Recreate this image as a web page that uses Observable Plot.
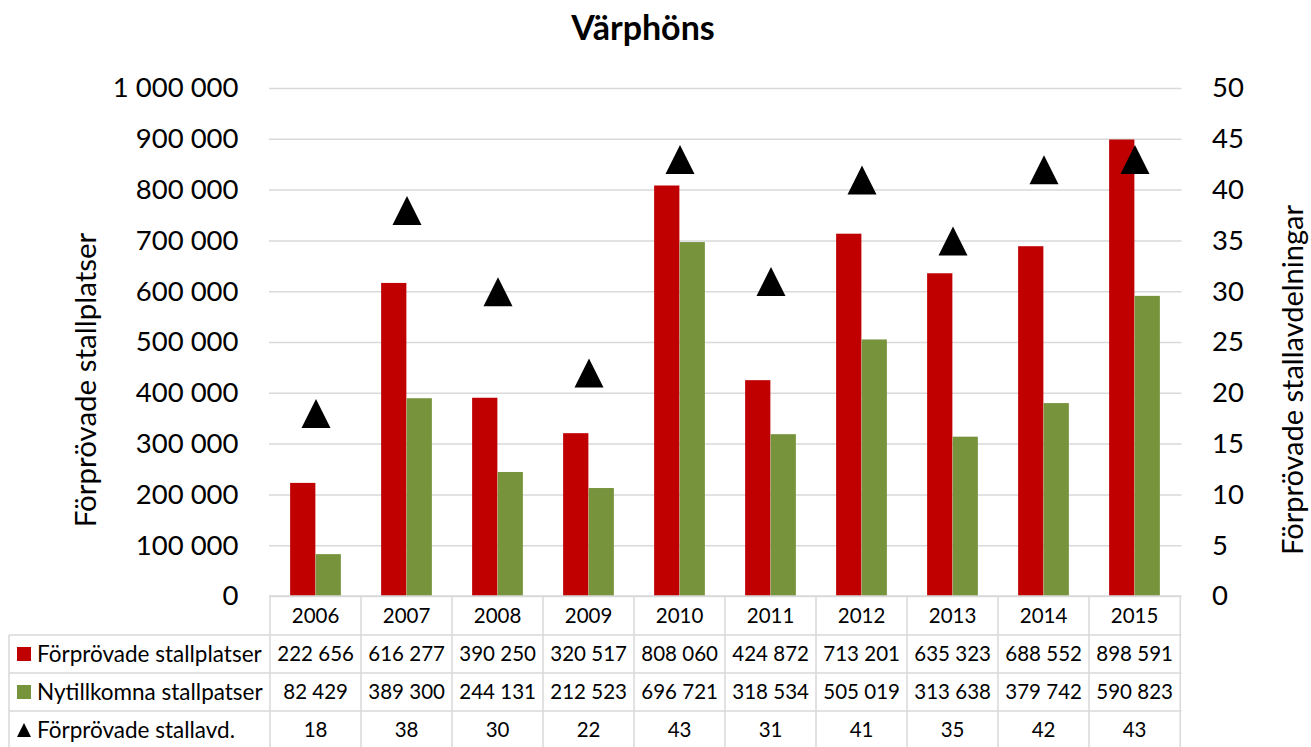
<!DOCTYPE html>
<html><head><meta charset="utf-8">
<script src="https://cdn.jsdelivr.net/npm/d3@7"></script>
<script src="https://cdn.jsdelivr.net/npm/@observablehq/plot@0.6"></script>
<style>body{margin:0;background:#fff} svg{font-family:Lato,sans-serif}</style>
</head><body><div id="chart"></div><script>
const title = "Värphöns";
const years = ["2006","2007","2008","2009","2010","2011","2012","2013","2014","2015"];
const stallplatser = [222656, 616277, 390250, 320517, 808060, 424872, 713201, 635323, 688552, 898591];
const nytillkomna = [82429, 389300, 244131, 212523, 696721, 318534, 505019, 313638, 379742, 590823];
const stallavd = [18, 38, 30, 22, 43, 31, 41, 35, 42, 43];
const seriesNames = ["Förprövade stallplatser", "Nytillkomna stallpatser", "Förprövade stallavd."];
const leftTitle = "Förprövade stallplatser";
const rightTitle = "Förprövade stallavdelningar";
const leftTicks = d3.range(0, 1000001, 100000);
const rightTicks = d3.range(0, 51, 5);
const colors = ["#C00000", "#77933C", "#000000"];

const rightMax = 50, leftMax = 1000000;
const yFactor = leftMax / rightMax;
const fmt = d => d3.format(",")(d).replace(/,/g, " ");

const W = 1311, H = 747;
const mL = 269, mR = 129.5, mT = 88, mB = 151;
const bw = (W - mL - mR) / years.length;
const barW = 25.5;
const inset = (bw - barW) / 2;
const gridColor = "#D9D9D9";

const data = years.map((year, i) => ({year, platser: stallplatser[i], nya: nytillkomna[i], avd: stallavd[i]}));

const tri = {draw(ctx, size) {
  const r = Math.sqrt(size / Math.PI);
  ctx.moveTo(0, -r); ctx.lineTo(r, r); ctx.lineTo(-r, r); ctx.closePath();
}};

function decorations(index, scales, values, dims) {
  const x = scales.x;
  const g = d3.create("svg:g").attr("font-family", "Lato, sans-serif").attr("fill", "#000").attr("text-anchor", "start");
  const top = dims.height - dims.marginBottom;
  const right = dims.width - dims.marginRight;
  const left = dims.marginLeft;
  const rowY = [top, top + 39, top + 77, top + 115, top + 153];
  const tableLeft = 9;
  const lines = g.append("g").attr("stroke", gridColor).attr("stroke-width", 1.5);
  lines.append("line").attr("x1", left).attr("x2", right).attr("y1", rowY[0]).attr("y2", rowY[0]);
  for (let r = 1; r < rowY.length; r++)
    lines.append("line").attr("x1", tableLeft).attr("x2", right).attr("y1", rowY[r]).attr("y2", rowY[r]);
  const bounds = years.map(y => x(y)).concat([x(years[years.length - 1]) + bw]);
  bounds.forEach(b => lines.append("line").attr("x1", b).attr("x2", b).attr("y1", rowY[0]).attr("y2", rowY[4]));
  lines.append("line").attr("x1", tableLeft).attr("x2", tableLeft).attr("y1", rowY[1]).attr("y2", rowY[4]);

  const centers = [616, 654, 692, 730];
  const rows = [years, stallplatser.map(fmt), nytillkomna.map(fmt), stallavd.map(String)];
  rows.forEach((row, r) => {
    row.forEach((t, i) => {
      g.append("text").attr("x", x(years[i]) + bw / 2).attr("y", centers[r]).attr("dy", "0.36em")
        .attr("text-anchor", "middle").attr("font-size", 20.5).text(t);
    });
  });
  g.append("rect").attr("x", 17).attr("y", centers[1] - 7).attr("width", 14).attr("height", 14).attr("fill", colors[0]);
  g.append("rect").attr("x", 17).attr("y", centers[2] - 7).attr("width", 14).attr("height", 14).attr("fill", colors[1]);
  g.append("path").attr("d", `M24,${centers[3] - 7}L31,${centers[3] + 7}L17,${centers[3] + 7}Z`).attr("fill", colors[2]);
  seriesNames.forEach((s, r) => {
    g.append("text").attr("x", 37).attr("y", centers[r + 1]).attr("dy", "0.36em")
      .attr("text-anchor", "start").attr("font-size", 22.5).text(s);
  });
  g.append("text").attr("x", 643).attr("y", 40).attr("text-anchor", "middle")
    .attr("font-size", 34).attr("font-weight", "bold").text(title);
  g.append("text").attr("transform", "translate(96,380) rotate(-90)").attr("text-anchor", "middle")
    .attr("font-size", 29.5).text(leftTitle);
  g.append("text").attr("transform", "translate(1303,380) rotate(-90)").attr("text-anchor", "middle")
    .attr("font-size", 29).text(rightTitle);
  return g.node();
}

const plot = Plot.plot({
  width: W, height: H,
  marginLeft: mL, marginRight: mR, marginTop: mT, marginBottom: mB,
  style: {fontFamily: "Lato, sans-serif", background: "white", color: "black"},
  x: {type: "band", domain: years, padding: 0, axis: null},
  y: {domain: [0, leftMax], axis: null},
  marks: [
    Plot.gridY(leftTicks, {stroke: gridColor, strokeOpacity: 1, strokeWidth: 1.5}),
    Plot.barY(data, {x: "year", y: "platser", fill: colors[0], dx: -barW / 2, insetLeft: inset, insetRight: inset}),
    Plot.barY(data, {x: "year", y: "nya", fill: colors[1], dx: barW / 2, insetLeft: inset, insetRight: inset}),
    Plot.dot(data, {x: "year", y: d => d.avd * yFactor, symbol: tri, r: 14.5, fill: colors[2], stroke: "none"}),
    Plot.axisY(leftTicks, {anchor: "left", tickFormat: fmt, tickSize: 0, tickPadding: 31, fontSize: 27.5, label: null}),
    Plot.axisY(rightTicks.map(v => v * yFactor), {anchor: "right", tickFormat: d => Math.round(d / yFactor), tickSize: 0, tickPadding: 30, fontSize: 27.5, label: null}),
    decorations
  ]
});
document.getElementById("chart").appendChild(plot);
</script></body></html>
